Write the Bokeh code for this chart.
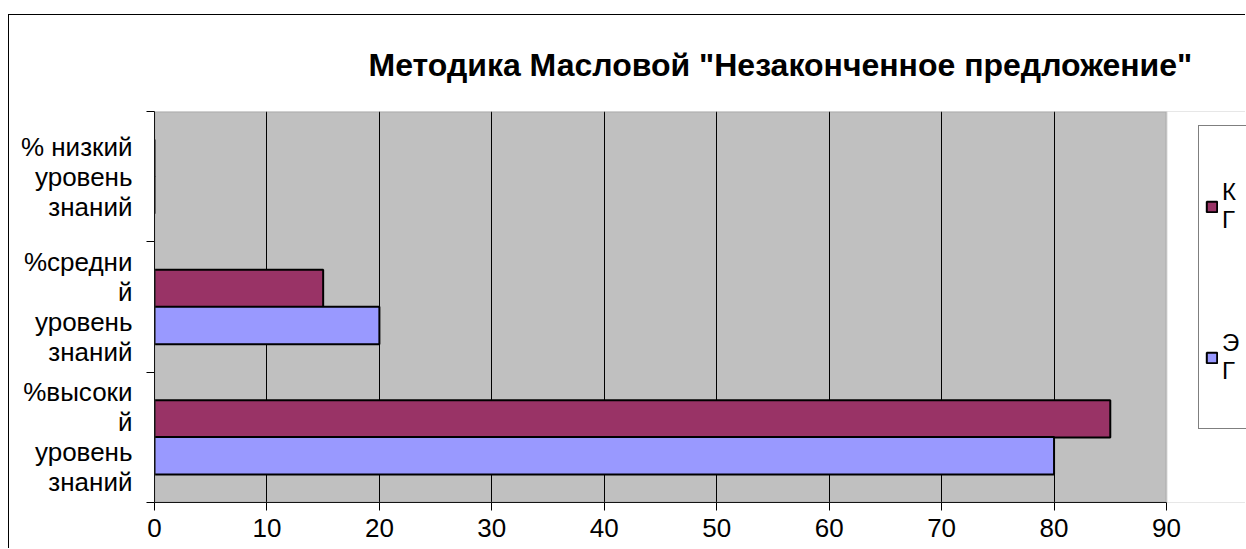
from bokeh.plotting import figure
from bokeh.models import (ColumnDataSource, Range1d, FixedTicker, Legend, LegendItem, Title,
                          BoxAnnotation)
from bokeh.transform import dodge
from bokeh.embed import file_html
from bokeh.resources import INLINE

# ---- data ----
categories = ["%высокий уровень знаний", "%средний уровень знаний", "% низкий уровень знаний"]
tick_labels = ["%высоки\nй\nуровень\nзнаний", "%средни\nй\nуровень\nзнаний", "% низкий\nуровень\nзнаний"]
kg_values = [85, 15, 0]
eg_values = [80, 20, 0]
series_names = ["К\nГ", "Э\nГ"]
x_ticks = [0, 10, 20, 30, 40, 50, 60, 70, 80, 90]
title_text = 'Методика Масловой "Незаконченное предложение"'

FONT = "Liberation Sans"
KG_COLOR = "#993366"
EG_COLOR = "#9999FF"

# layout: the frame runs to the right canvas edge, the axis span uses AXIS_PX of FRAME_PX
FRAME_PX = 1092
AXIS_PX = 1012
x_min, x_max = x_ticks[0], x_ticks[-1]
x_end = x_min + (x_max - x_min) * FRAME_PX / AXIS_PX

n = len(categories)
centers = [i + 0.5 for i in range(n)]
source = ColumnDataSource(dict(y=centers, cat=categories, kg=kg_values, eg=eg_values))

p = figure(width=1237, height=534, output_backend="svg", toolbar_location=None,
           x_range=Range1d(x_min, x_end), y_range=Range1d(0, n),
           min_border_left=145, min_border_right=0, min_border_top=95, min_border_bottom=47)
p.styles = {"border-top": "1px solid black", "border-left": "1px solid black",
            "margin-top": "14px", "margin-left": "8px"}
p.title = None
p.background_fill_color = "#C0C0C0"
p.border_fill_color = "white"
p.outline_line_color = None

t = Title(text=title_text, align="left", offset=214, text_font=FONT, text_font_size="32px",
          text_font_style="bold", text_color="black", standoff=58)
p.add_layout(t, "above")

# white area right of the plot area (where the legend sits)
p.add_layout(BoxAnnotation(left=x_max, fill_color="white", fill_alpha=1.0, line_color=None,
                           level="underlay"))

bar_h = 0.287
off = 0.1416
r_kg = p.hbar(y=dodge("y", off, range=p.y_range), right="kg", left=0, height=bar_h, source=source,
              fill_color=KG_COLOR, line_color="black", line_width=2)
r_eg = p.hbar(y=dodge("y", -off, range=p.y_range), right="eg", left=0, height=bar_h, source=source,
              fill_color=EG_COLOR, line_color="black", line_width=2)

# plot-area border (grey)
p.add_layout(BoxAnnotation(left=x_min, right=x_max, bottom=0, top=n, fill_color=None, fill_alpha=0,
                           line_color="#808080", line_width=2))

# x axis
xa = p.xaxis[0]
xa.ticker = FixedTicker(ticks=x_ticks, minor_ticks=[])
xa.bounds = (x_min, x_max)
xa.major_tick_out = 8
xa.major_tick_in = 0
xa.major_tick_line_color = "black"
xa.axis_line_color = "black"
xa.axis_line_width = 1
xa.major_label_text_font = FONT
xa.major_label_text_font_size = "26px"
xa.major_label_text_color = "black"
xa.major_label_standoff = 8

# y axis
ya = p.yaxis[0]
ya.ticker = FixedTicker(ticks=centers, minor_ticks=list(range(n + 1)))
ya.major_label_overrides = {c: lab for c, lab in zip(centers, tick_labels)}
ya.major_tick_line_color = None
ya.major_tick_out = 8
ya.major_tick_in = 0
ya.minor_tick_out = 8
ya.minor_tick_in = 0
ya.minor_tick_line_color = "black"
ya.axis_line_color = "black"
ya.major_label_text_font = FONT
ya.major_label_text_font_size = "26px"
ya.major_label_text_color = "black"
ya.major_label_text_align = "center"
ya.major_label_text_line_height = 1.0
ya.major_label_standoff = 14

# grid
p.xgrid.ticker = FixedTicker(ticks=x_ticks[1:-1])
p.xgrid.grid_line_color = "black"
p.xgrid.grid_line_width = 1
p.ygrid.grid_line_color = None

legend = Legend(items=[LegendItem(label=series_names[0], renderers=[r_kg]),
                       LegendItem(label=series_names[1], renderers=[r_eg])],
                location=(1044, 73), orientation="vertical",
                title=" ", title_text_font=FONT, title_text_font_size="8px", title_standoff=0,
                label_text_font=FONT, label_text_font_size="24px", label_text_color="black",
                label_text_line_height=1.3, label_height=130,
                glyph_width=13, glyph_height=13, padding=6, spacing=21, margin=0,
                border_line_color="black", border_line_width=1, background_fill_color="white",
                background_fill_alpha=1.0, label_standoff=4)
p.add_layout(legend, "center")

open("out.html", "w").write(file_html(p, INLINE))
